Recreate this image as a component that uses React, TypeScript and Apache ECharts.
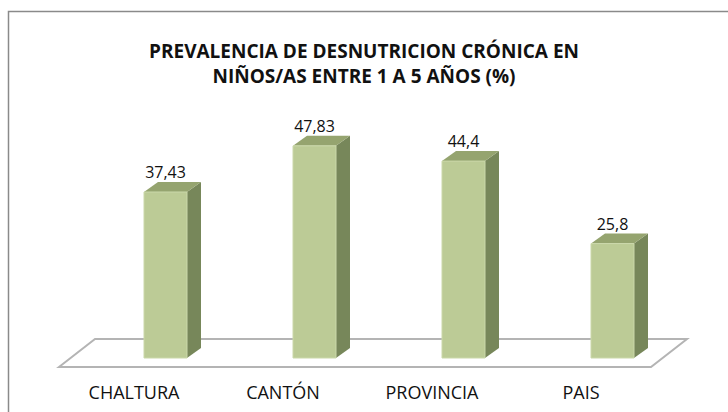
import React, { useEffect, useRef } from "react";
import * as echarts from "echarts";

const categories = ["CHALTURA", "CANTÓN", "PROVINCIA", "PAIS"];
const values = [37.43, 47.83, 44.4, 25.8];
const titleLines = ["PREVALENCIA DE DESNUTRICION CRÓNICA EN", "NIÑOS/AS ENTRE 1 A 5 AÑOS (%)"];

const FONT = "'Open Sans', sans-serif";
const BAR_W = 43;
const DX = 14;
const DY = 10;
const SHIFT = 31.5;

export default function App() {
  const ref = useRef<HTMLDivElement>(null);
  useEffect(() => {
    if (!ref.current) return;
    const chart = echarts.init(ref.current, undefined, { renderer: "svg" });
    chart.setOption({
      animation: false,
      backgroundColor: "#ffffff",
      grid: { left: 59.5, right: 72.5, top: 136.25, bottom: 54, containLabel: false },
      xAxis: {
        type: "category",
        data: categories,
        axisLine: { show: false },
        axisTick: { show: false },
        axisLabel: { margin: 25, fontSize: 18, color: "#111", fontFamily: FONT },
      },
      yAxis: { type: "value", min: 0, max: 50, show: false, splitLine: { show: false } },
      graphic: [
        {
          type: "rect",
          z: 0,
          shape: { x: 8.5, y: 11.5, width: 800, height: 500 },
          style: { fill: "none", stroke: "#8a8a8a", lineWidth: 1.5 },
        },
        {
          type: "polygon",
          z: 0,
          shape: { points: [[59, 367], [95, 339], [687, 339], [651, 367]] },
          style: { fill: "#ffffff", stroke: "#b4b4b4", lineWidth: 2 },
        },
        {
          type: "text",
          z: 5,
          left: "center",
          top: 38,
          style: {
            text: titleLines.join("\n"),
            fontSize: 19,
            fontWeight: "bold",
            fontFamily: FONT,
            fill: "#111",
            textAlign: "center",
            lineHeight: 25,
          },
        },
      ],
      series: [
        {
          type: "custom",
          z: 3,
          data: values.map((v, i) => [i, v]),
          renderItem: (params: any, api: any) => {
            const cat = api.value(0);
            const v = api.value(1);
            const top = api.coord([cat, v]);
            const base = api.coord([cat, 0]);
            const cx = top[0] + SHIFT;
            const x0 = cx - BAR_W / 2;
            const x1 = cx + BAR_W / 2;
            const yt = top[1];
            const yb = base[1];
            const label = String(v).replace(".", ",");
            return {
              type: "group",
              children: [
                {
                  type: "polygon",
                  shape: { points: [[x1, yt], [x1 + DX, yt - DY], [x1 + DX, yb - DY], [x1, yb]] },
                  style: { fill: "#77875a" },
                },
                {
                  type: "polygon",
                  shape: { points: [[x0, yt], [x0 + DX, yt - DY], [x1 + DX, yt - DY], [x1, yt]] },
                  style: { fill: "#95a46f" },
                },
                {
                  type: "rect",
                  shape: { x: x0, y: yt, width: BAR_W, height: yb - yt },
                  style: { fill: "#bccb96", stroke: "#cbd8aa", lineWidth: 1 },
                },
                {
                  type: "text",
                  style: {
                    text: label,
                    x: cx,
                    y: yt - DY - 2,
                    textAlign: "center",
                    textVerticalAlign: "bottom",
                    fontSize: 16,
                    fontFamily: FONT,
                    fill: "#111",
                  },
                },
              ],
            };
          },
        },
      ],
    });
    return () => chart.dispose();
  }, []);
  return <div ref={ref} style={{ position: "fixed", left: 0, top: 0, width: 728, height: 412 }} />;
}
